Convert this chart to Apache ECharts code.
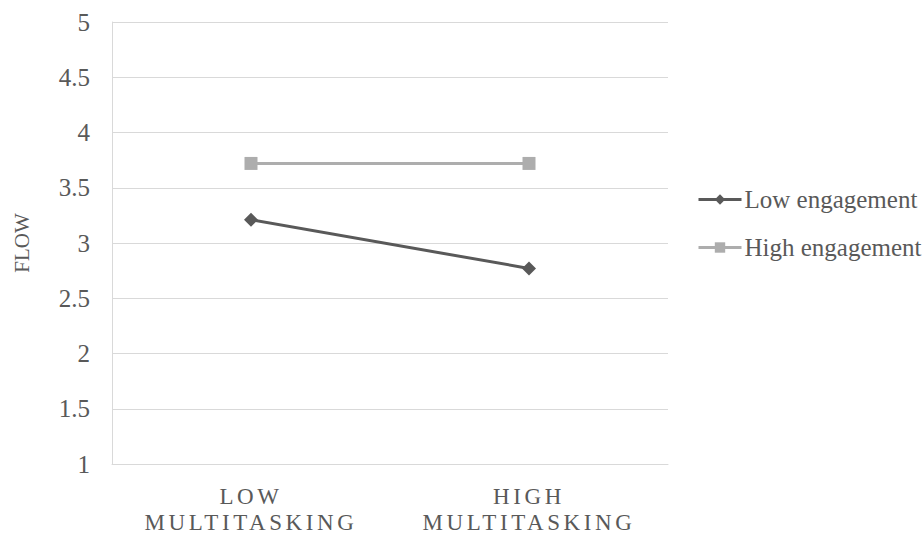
<!DOCTYPE html>
<html><head><meta charset="utf-8">
<script src="https://cdn.jsdelivr.net/npm/echarts@6/dist/echarts.min.js"></script>
<style>html,body{margin:0;padding:0;background:#fff}#c{width:922px;height:536px}</style>
</head><body><div id="c"></div>
<script>
const categories = ['LOW\nMULTITASKING', 'HIGH\nMULTITASKING'];
const lowEngagement = [3.21, 2.77];
const highEngagement = [3.72, 3.72];
const yTicks = { min: 1, max: 5, interval: 0.5 };

const font = 'Liberation Serif, serif';
const chart = echarts.init(document.getElementById('c'), null, { renderer: 'svg' });
chart.setOption({
  animation: false,
  backgroundColor: '#fff',
  grid: { left: 112, top: 22, right: 254, bottom: 72 },
  legend: {
    orient: 'vertical', left: 692, top: 182, itemGap: 23,
    itemWidth: 43, itemHeight: 13,
    lineStyle: { width: 3 },
    textStyle: { fontFamily: font, fontSize: 25, color: '#595959', padding: [0, 0, 0, -2], lineHeight: 25 },
    data: ['Low engagement', 'High engagement']
  },
  xAxis: {
    type: 'category', data: categories, boundaryGap: true,
    axisLine: { show: true, lineStyle: { color: '#d9d9d9', width: 1 } },
    axisTick: { show: false },
    axisLabel: { fontFamily: font, fontSize: 23, color: '#595959', margin: 19, lineHeight: 26 }
  },
  yAxis: {
    type: 'value', min: yTicks.min, max: yTicks.max, interval: yTicks.interval,
    name: 'FLOW', nameLocation: 'middle', nameGap: 80, nameRotate: 90,
    nameTextStyle: { fontFamily: font, fontSize: 21, color: '#595959' },
    axisLine: { show: true, lineStyle: { color: '#d9d9d9', width: 1 } },
    axisTick: { show: false },
    splitLine: { lineStyle: { color: '#d9d9d9', width: 1 } },
    axisLabel: { fontFamily: font, fontSize: 25, color: '#595959', margin: 22 }
  },
  series: [
    { name: 'Low engagement', type: 'line', data: lowEngagement, symbol: 'diamond', symbolSize: 14,
      itemStyle: { color: '#595959' }, lineStyle: { color: '#595959', width: 3 } },
    { name: 'High engagement', type: 'line', data: highEngagement, symbol: 'rect', symbolSize: 13,
      itemStyle: { color: '#adadad' }, lineStyle: { color: '#adadad', width: 3 } }
  ]
});
function spaceLabels() {
  const lines = new Set();
  categories.forEach(c => c.split('\n').forEach(l => lines.add(l)));
  document.querySelectorAll('#c svg text, #c svg tspan').forEach(t => {
    if (lines.has(t.textContent.trim())) t.style.letterSpacing = '3.6px';
  });
}
spaceLabels();
chart.on('finished', spaceLabels);
</script></body></html>
